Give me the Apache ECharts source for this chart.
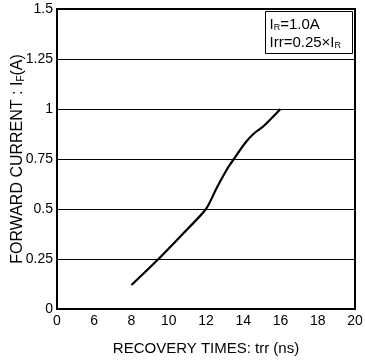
<!DOCTYPE html>
<html>
<head>
<meta charset="utf-8">
<script src="https://cdn.jsdelivr.net/npm/echarts@6/dist/echarts.min.js"></script>
<style>
  html, body { margin: 0; padding: 0; background: #fff; }
  #chart { width: 365px; height: 361px; }
</style>
</head>
<body>
<div id="chart"></div>
<script>
// recovery time curve (trr in ns, IF in A)
const trr = [8.0, 9.45, 10.8, 12.0, 12.6, 13.2, 13.5, 14.1, 14.6, 15.1, 16.0];
const forwardCurrent = [0.12, 0.25, 0.38, 0.5, 0.61, 0.71, 0.75, 0.83, 0.88, 0.915, 1.0];

// x axis is broken: first tick reads 0 but sits where 4 would be
const xTicks = [4, 6, 8, 10, 12, 14, 16, 18, 20];
const xTickLabels = ['0', '6', '8', '10', '12', '14', '16', '18', '20'];
const yTicks = [0, 0.25, 0.5, 0.75, 1, 1.25, 1.5];

const font = 'Liberation Sans, Arial, sans-serif';

const chart = echarts.init(document.getElementById('chart'));

chart.setOption({
  backgroundColor: '#fff',
  animation: false,
  grid: {
    left: 57, right: 10, top: 9, bottom: 52,
    outerBoundsMode: 'none',
    show: true,
    borderColor: '#000',
    borderWidth: 2
  },
  xAxis: {
    type: 'value',
    min: xTicks[0],
    max: xTicks[xTicks.length - 1],
    interval: 2,
    name: 'RECOVERY TIMES: trr (ns)',
    nameLocation: 'middle',
    nameGap: 32,
    nameMoveOverlap: false,
    nameTextStyle: { color: '#000', fontSize: 15, fontFamily: font },
    axisLine: { show: false },
    axisTick: { show: false },
    splitLine: { show: false },
    axisLabel: {
      color: '#000', fontSize: 14, fontFamily: font, margin: 5,
      formatter: v => xTickLabels[xTicks.indexOf(v)]
    }
  },
  yAxis: {
    type: 'value',
    min: yTicks[0],
    max: yTicks[yTicks.length - 1],
    interval: 0.25,
    name: 'FORWARD CURRENT : I{sub|F}(A)',
    nameLocation: 'middle',
    nameRotate: 90,
    nameGap: 31,
    nameMoveOverlap: false,
    nameTextStyle: {
      color: '#000', fontSize: 16, fontFamily: font,
      rich: { sub: { fontSize: 10, fontFamily: font, color: '#000', verticalAlign: 'bottom', padding: [4, 0, 0, 0] } }
    },
    axisLine: { show: false },
    axisTick: { show: false },
    splitLine: { show: true, lineStyle: { color: '#000', width: 1 } },
    axisLabel: {
      color: '#000', fontSize: 14, fontFamily: font, margin: 4,
      formatter: v => String(v)
    }
  },
  graphic: [{
    type: 'group',
    right: 12,
    top: 11,
    children: [
      { type: 'rect', shape: { x: 0, y: 0, width: 87, height: 42 },
        style: { fill: '#fff', stroke: '#000', lineWidth: 1 } },
      { type: 'text', x: 4, y: 13,
        style: { text: 'I{s|R}=1.0A', fill: '#000', font: '15px ' + font, textVerticalAlign: 'middle',
          rich: { s: { fontSize: 9, fontFamily: font, fill: '#000', verticalAlign: 'bottom', padding: [5, 0, 0, 0] } } } },
      { type: 'text', x: 4, y: 31,
        style: { text: 'Irr=0.25×I{s|R}', fill: '#000', font: '15px ' + font, textVerticalAlign: 'middle',
          rich: { s: { fontSize: 9, fontFamily: font, fill: '#000', verticalAlign: 'bottom', padding: [5, 0, 0, 0] } } } }
    ]
  }],
  series: [{
    type: 'line',
    data: trr.map((x, i) => [x, forwardCurrent[i]]),
    smooth: 0.25,
    showSymbol: false,
    lineStyle: { color: '#000', width: 2.2 }
  }]
});
</script>
</body>
</html>
